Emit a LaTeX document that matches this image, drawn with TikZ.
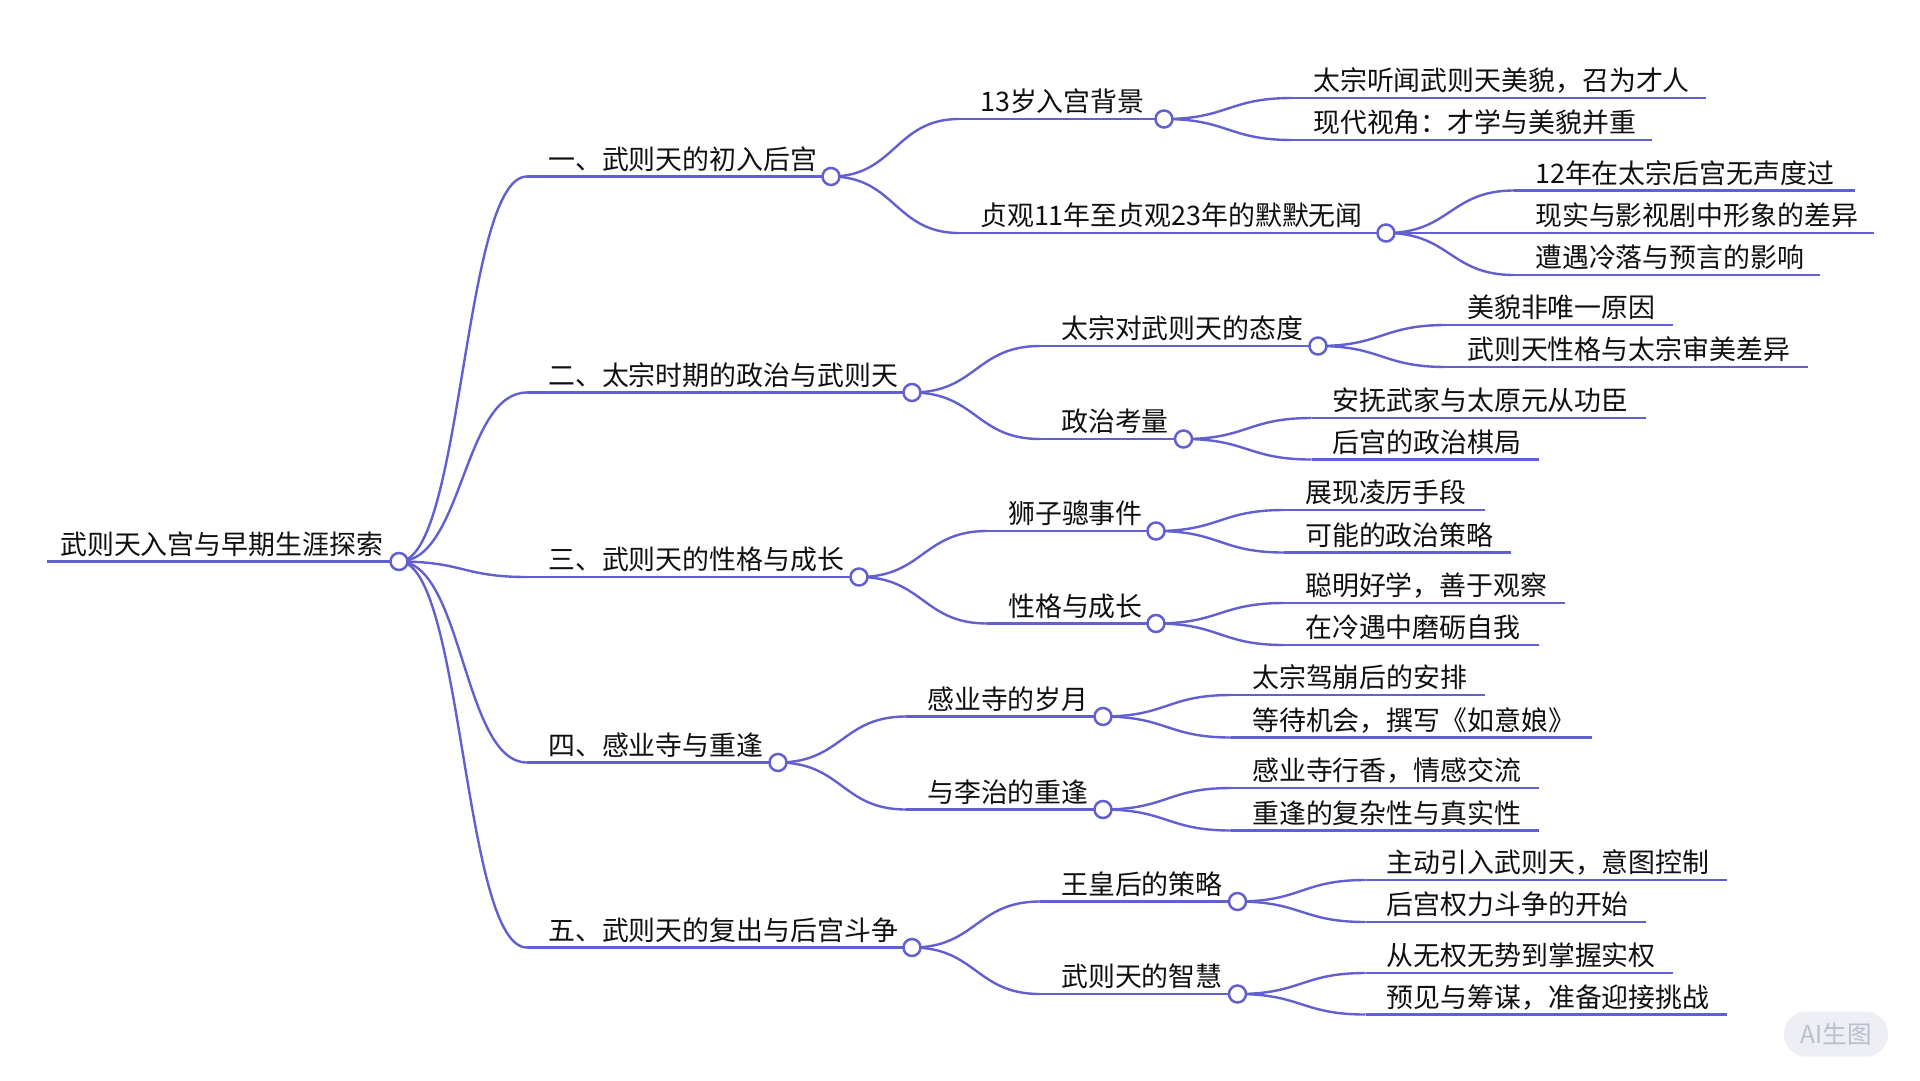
\documentclass[tikz,border=0pt]{standalone}
\usepackage{fontspec}
\setmainfont{Noto Sans CJK SC}
\usetikzlibrary{calc}
\definecolor{mmblue}{RGB}{98,96,208}
\definecolor{mmtext}{RGB}{16,16,16}
\definecolor{wmfill}{RGB}{238,239,245}
\definecolor{wmtext}{RGB}{188,189,204}
\newcommand\mmfs{\fontsize{26.9}{32}\selectfont}
\newcommand\mmlink[2]{\draw[conn] let \p1=(#1), \p2=(#2) in (\p1) .. controls ({(\x1+\x2)/2},\y1) and ({(\x1+\x2)/2},\y2) .. (\p2);}
\tikzset{
  conn/.style={draw=mmblue, line width=2.4pt},
  rootline/.style={draw=mmblue, line width=3pt},
  bar/.style={draw=mmblue, line width=2.6pt},
  dotnode/.style={circle, draw=mmblue, fill=white, line width=2.5pt, minimum size=17pt, inner sep=0pt},
  lbl/.style={anchor=base west, inner sep=0pt, font=\mmfs, text=mmtext},
}
\begin{document}
\begin{tikzpicture}[x=1pt,y=-1pt]
\fill[white] (0,0) rectangle (1920,1080);
\useasboundingbox (0,0) rectangle (1920,1080);

% ---------- coordinates ----------
\coordinate (Rs) at (47,561.5);   \coordinate (R) at (399,561.5);
\coordinate (A1s) at (527,176.5); \coordinate (A1) at (831,176.5);
\coordinate (A2s) at (527,392.5); \coordinate (A2) at (912,392.5);
\coordinate (A3s) at (527,577);   \coordinate (A3) at (859,577);
\coordinate (A4s) at (527,762.5); \coordinate (A4) at (778,762.5);
\coordinate (A5s) at (527,947.5); \coordinate (A5) at (912,947.5);

\coordinate (B11s) at (959,119);   \coordinate (B11) at (1164,119);
\coordinate (B12s) at (959,233);   \coordinate (B12) at (1386,233);
\coordinate (B21s) at (1040,346);  \coordinate (B21) at (1318,346);
\coordinate (B22s) at (1040,439);  \coordinate (B22) at (1183.5,439);
\coordinate (B31s) at (987,531);   \coordinate (B31) at (1156,531);
\coordinate (B32s) at (987,623.5); \coordinate (B32) at (1156,623.5);
\coordinate (B41s) at (906,716.5); \coordinate (B41) at (1103,716.5);
\coordinate (B42s) at (906,809.5); \coordinate (B42) at (1103,809.5);
\coordinate (B51s) at (1040,901.5);\coordinate (B51) at (1237.5,901.5);
\coordinate (B52s) at (1040,994);  \coordinate (B52) at (1237.5,994);

\coordinate (C111s) at (1292,98);    \coordinate (C111e) at (1706,98);
\coordinate (C112s) at (1292,140);   \coordinate (C112e) at (1652,140);
\coordinate (C121s) at (1514,190.5); \coordinate (C121e) at (1855,190.5);
\coordinate (C122s) at (1514,233);   \coordinate (C122e) at (1874,233);
\coordinate (C123s) at (1514,275);   \coordinate (C123e) at (1820,275);
\coordinate (C211s) at (1446,325);   \coordinate (C211e) at (1673,325);
\coordinate (C212s) at (1446,367);   \coordinate (C212e) at (1808,367);
\coordinate (C221s) at (1311.5,418); \coordinate (C221e) at (1646,418);
\coordinate (C222s) at (1311.5,459.5);\coordinate (C222e) at (1539,459.5);
\coordinate (C311s) at (1284,510);   \coordinate (C311e) at (1485,510);
\coordinate (C312s) at (1284,552.5); \coordinate (C312e) at (1511,552.5);
\coordinate (C321s) at (1284,603);   \coordinate (C321e) at (1565,603);
\coordinate (C322s) at (1284,645);   \coordinate (C322e) at (1539,645);
\coordinate (C411s) at (1231,695);   \coordinate (C411e) at (1485,695);
\coordinate (C412s) at (1231,737.5); \coordinate (C412e) at (1592,737.5);
\coordinate (C421s) at (1231,788);   \coordinate (C421e) at (1539,788);
\coordinate (C422s) at (1231,830.5); \coordinate (C422e) at (1539,830.5);
\coordinate (C511s) at (1365.5,880); \coordinate (C511e) at (1727,880);
\coordinate (C512s) at (1365.5,922); \coordinate (C512e) at (1646,922);
\coordinate (C521s) at (1365.5,973); \coordinate (C521e) at (1673,973);
\coordinate (C522s) at (1365.5,1014.5);\coordinate (C522e) at (1727,1014.5);

% ---------- curves ----------
\foreach \c in {A1,A2,A3,A4,A5} {\mmlink{R}{\c s}}
\mmlink{A1}{B11s} \mmlink{A1}{B12s}
\mmlink{A2}{B21s} \mmlink{A2}{B22s}
\mmlink{A3}{B31s} \mmlink{A3}{B32s}
\mmlink{A4}{B41s} \mmlink{A4}{B42s}
\mmlink{A5}{B51s} \mmlink{A5}{B52s}
\mmlink{B11}{C111s} \mmlink{B11}{C112s}
\mmlink{B12}{C121s} \mmlink{B12}{C122s} \mmlink{B12}{C123s}
\mmlink{B21}{C211s} \mmlink{B21}{C212s}
\mmlink{B22}{C221s} \mmlink{B22}{C222s}
\mmlink{B31}{C311s} \mmlink{B31}{C312s}
\mmlink{B32}{C321s} \mmlink{B32}{C322s}
\mmlink{B41}{C411s} \mmlink{B41}{C412s}
\mmlink{B42}{C421s} \mmlink{B42}{C422s}
\mmlink{B51}{C511s} \mmlink{B51}{C512s}
\mmlink{B52}{C521s} \mmlink{B52}{C522s}

% ---------- underlines ----------
\draw[rootline] (Rs) -- (R);
\foreach \c in {A1,A2,A3,A4,A5,B11,B12,B21,B22,B31,B32,B41,B42,B51,B52} {\draw[bar] (\c s) -- (\c);}
\foreach \c in {C111,C112,C121,C122,C123,C211,C212,C221,C222,C311,C312,C321,C322,C411,C412,C421,C422,C511,C512,C521,C522} {\draw[bar] (\c s) -- (\c e);}

% ---------- circles ----------
\foreach \c in {R,A1,A2,A3,A4,A5,B11,B12,B21,B22,B31,B32,B41,B42,B51,B52} {\node[dotnode] (\c c) at (\c) {};}

% ---------- labels ----------
\node[lbl] (Rt) at ([shift={(13,-7.5)}]Rs) {武则天入宫与早期生涯探索};
\node[lbl] (A1t) at ([shift={(21,-7.5)}]A1s) {一、武则天的初入后宫};
\node[lbl] (A2t) at ([shift={(21,-7.5)}]A2s) {二、太宗时期的政治与武则天};
\node[lbl] (A3t) at ([shift={(21,-7.5)}]A3s) {三、武则天的性格与成长};
\node[lbl] (A4t) at ([shift={(21,-7.5)}]A4s) {四、感业寺与重逢};
\node[lbl] (A5t) at ([shift={(21,-7.5)}]A5s) {五、武则天的复出与后宫斗争};

\node[lbl] (B11t) at ([shift={(21,-7.5)}]B11s) {13岁入宫背景};
\node[lbl] (B12t) at ([shift={(21,-7.5)}]B12s) {贞观11年至贞观23年的默默无闻};
\node[lbl] (B21t) at ([shift={(21,-7.5)}]B21s) {太宗对武则天的态度};
\node[lbl] (B22t) at ([shift={(21,-7.5)}]B22s) {政治考量};
\node[lbl] (B31t) at ([shift={(21,-7.5)}]B31s) {狮子骢事件};
\node[lbl] (B32t) at ([shift={(21,-7.5)}]B32s) {性格与成长};
\node[lbl] (B41t) at ([shift={(21,-7.5)}]B41s) {感业寺的岁月};
\node[lbl] (B42t) at ([shift={(21,-7.5)}]B42s) {与李治的重逢};
\node[lbl] (B51t) at ([shift={(21,-7.5)}]B51s) {王皇后的策略};
\node[lbl] (B52t) at ([shift={(21,-7.5)}]B52s) {武则天的智慧};

\node[lbl] (C111t) at ([shift={(21,-7.5)}]C111s) {太宗听闻武则天美貌，召为才人};
\node[lbl] (C112t) at ([shift={(21,-7.5)}]C112s) {现代视角：才学与美貌并重};
\node[lbl] (C121t) at ([shift={(21,-7.5)}]C121s) {12年在太宗后宫无声度过};
\node[lbl] (C122t) at ([shift={(21,-7.5)}]C122s) {现实与影视剧中形象的差异};
\node[lbl] (C123t) at ([shift={(21,-7.5)}]C123s) {遭遇冷落与预言的影响};
\node[lbl] (C211t) at ([shift={(21,-7.5)}]C211s) {美貌非唯一原因};
\node[lbl] (C212t) at ([shift={(21,-7.5)}]C212s) {武则天性格与太宗审美差异};
\node[lbl] (C221t) at ([shift={(21,-7.5)}]C221s) {安抚武家与太原元从功臣};
\node[lbl] (C222t) at ([shift={(21,-7.5)}]C222s) {后宫的政治棋局};
\node[lbl] (C311t) at ([shift={(21,-7.5)}]C311s) {展现凌厉手段};
\node[lbl] (C312t) at ([shift={(21,-7.5)}]C312s) {可能的政治策略};
\node[lbl] (C321t) at ([shift={(21,-7.5)}]C321s) {聪明好学，善于观察};
\node[lbl] (C322t) at ([shift={(21,-7.5)}]C322s) {在冷遇中磨砺自我};
\node[lbl] (C411t) at ([shift={(21,-7.5)}]C411s) {太宗驾崩后的安排};
\node[lbl] (C412t) at ([shift={(21,-7.5)}]C412s) {等待机会，撰写《如意娘》};
\node[lbl] (C421t) at ([shift={(21,-7.5)}]C421s) {感业寺行香，情感交流};
\node[lbl] (C422t) at ([shift={(21,-7.5)}]C422s) {重逢的复杂性与真实性};
\node[lbl] (C511t) at ([shift={(21,-7.5)}]C511s) {主动引入武则天，意图控制};
\node[lbl] (C512t) at ([shift={(21,-7.5)}]C512s) {后宫权力斗争的开始};
\node[lbl] (C521t) at ([shift={(21,-7.5)}]C521s) {从无权无势到掌握实权};
\node[lbl] (C522t) at ([shift={(21,-7.5)}]C522s) {预见与筹谋，准备迎接挑战};

% ---------- watermark ----------
\node[fill=wmfill, rounded corners=22pt, minimum width=104pt, minimum height=45pt, inner sep=0pt,
      text=wmtext, font=\fontsize{24.5}{28}\selectfont] (wm) at (1836,1034) {AI生图};
\end{tikzpicture}
\end{document}
